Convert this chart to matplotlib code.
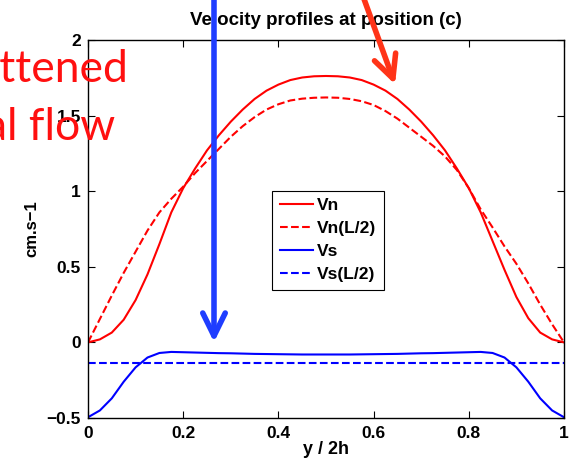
import matplotlib
matplotlib.use("Agg")
import matplotlib.pyplot as plt
from matplotlib.patches import FancyArrowPatch

# y / 2h sample positions
y = [0, 0.025, 0.05, 0.075, 0.1, 0.125, 0.15, 0.175, 0.2, 0.225, 0.25,
     0.275, 0.3, 0.325, 0.35, 0.375, 0.4, 0.425, 0.45, 0.475, 0.5,
     0.525, 0.55, 0.575, 0.6, 0.625, 0.65, 0.675, 0.7, 0.725, 0.75,
     0.775, 0.8, 0.825, 0.85, 0.875, 0.9, 0.925, 0.95, 0.975, 1.0]

vn = [0, 0.02, 0.065, 0.15, 0.28, 0.45, 0.65, 0.86, 1.02, 1.15, 1.27,
      1.37, 1.46, 1.54, 1.61, 1.665, 1.705, 1.735, 1.752, 1.76, 1.762,
      1.76, 1.752, 1.735, 1.705, 1.665, 1.61, 1.54, 1.46, 1.37, 1.27,
      1.15, 1.02, 0.86, 0.67, 0.48, 0.30, 0.16, 0.065, 0.02, 0]

vn_half = [0, 0.155, 0.31, 0.46, 0.6, 0.74, 0.86, 0.95, 1.03, 1.12, 1.2,
           1.28, 1.36, 1.43, 1.49, 1.54, 1.575, 1.6, 1.612, 1.618, 1.62,
           1.618, 1.61, 1.595, 1.57, 1.53, 1.48, 1.42, 1.36, 1.30, 1.23,
           1.14, 1.02, 0.88, 0.76, 0.635, 0.52, 0.39, 0.25, 0.12, 0]

vs = [-0.495, -0.45, -0.37, -0.26, -0.165, -0.10, -0.07, -0.063, -0.065, -0.067, -0.069,
      -0.071, -0.072, -0.074, -0.076, -0.077, -0.078, -0.079, -0.08, -0.08, -0.08,
      -0.08, -0.08, -0.079, -0.078, -0.077, -0.076, -0.074, -0.072, -0.071, -0.069,
      -0.067, -0.065, -0.063, -0.07, -0.10, -0.165, -0.26, -0.37, -0.45, -0.495]

vs_half = [-0.135] * len(y)

xticks = [0, 0.2, 0.4, 0.6, 0.8, 1]
yticks = [-0.5, 0, 0.5, 1, 1.5, 2]

plt.rcParams['font.family'] = 'Liberation Sans'
plt.rcParams['font.weight'] = 'bold'

fig = plt.figure(figsize=(5.7, 4.63), dpi=100)
ax = fig.add_axes([88/570, 45/463, 476/570, 378/463])

ax.plot(y, vn, '-', color='#ff0000', lw=1.5, label='Vn')
ax.plot(y, vn_half, '--', color='#ff0000', lw=1.5, label='Vn(L/2)')
ax.plot(y, vs, '-', color='#0000ff', lw=1.5, label='Vs')
ax.plot(y, vs_half, '--', color='#0000ff', lw=1.5, label='Vs(L/2)')

ax.set_xlim(0, 1)
ax.set_ylim(-0.5, 2)
ax.set_xticks(xticks)
ax.set_xticklabels(['0', '0.2', '0.4', '0.6', '0.8', '1'])
ax.set_yticks(yticks)
ax.set_yticklabels(['\u22120.5', '0', '0.5', '1', '1.5', '2'])
ax.tick_params(direction='in', length=5, width=0.8, top=True, right=True,
               labelsize=12.5)
ax.tick_params(axis='x', pad=6)
ax.tick_params(axis='y', pad=5)
for lab in ax.get_xticklabels() + ax.get_yticklabels():
    lab.set_fontweight('bold')
for sp in ax.spines.values():
    sp.set_linewidth(1.0)

ax.set_title('Velocity profiles at position (c)', fontsize=13.5, fontweight='bold', pad=10.5)
ax.set_xlabel('y / 2h', fontsize=13, fontweight='bold', labelpad=0)
ax.set_ylabel('cm.s\u22121', fontsize=12, fontweight='bold')
ax.yaxis.set_label_coords(-0.102, 0.5)

leg = ax.legend(loc='center', bbox_to_anchor=(0.504, 0.47), fontsize=12.5,
                fancybox=False, edgecolor='black', framealpha=1,
                handlelength=1.9, labelspacing=0.45, borderpad=0.45,
                handletextpad=0.25, borderaxespad=0)
leg.get_frame().set_linewidth(0.8)
for t in leg.get_texts():
    t.set_fontweight('bold')

# overlaid slide annotations
fig.text(128/570, 1 - 82/463, 'flattened', ha='right', va='baseline',
         color='#ff1010', fontsize=32, family='Lato', fontweight='normal', zorder=5)
fig.text(115/570, 1 - 140/463, 'axial flow', ha='right', va='baseline',
         color='#ff1010', fontsize=32, family='Lato', fontweight='normal', zorder=5)

blue = FancyArrowPatch((214/570, 1.02), (214/570, 1 - 345/463),
                       transform=fig.transFigure, arrowstyle='->,head_length=0.55,head_width=0.27',
                       mutation_scale=30, color='#1f3dff', lw=4, zorder=6)
fig.add_artist(blue)
red = FancyArrowPatch((361/570, 1.02), (396/570, 1 - 87/463),
                      transform=fig.transFigure, arrowstyle='->,head_length=0.55,head_width=0.27',
                      mutation_scale=30, color='#ff3418', lw=4, zorder=6)
fig.add_artist(red)

fig.savefig('out.png', dpi=100)
